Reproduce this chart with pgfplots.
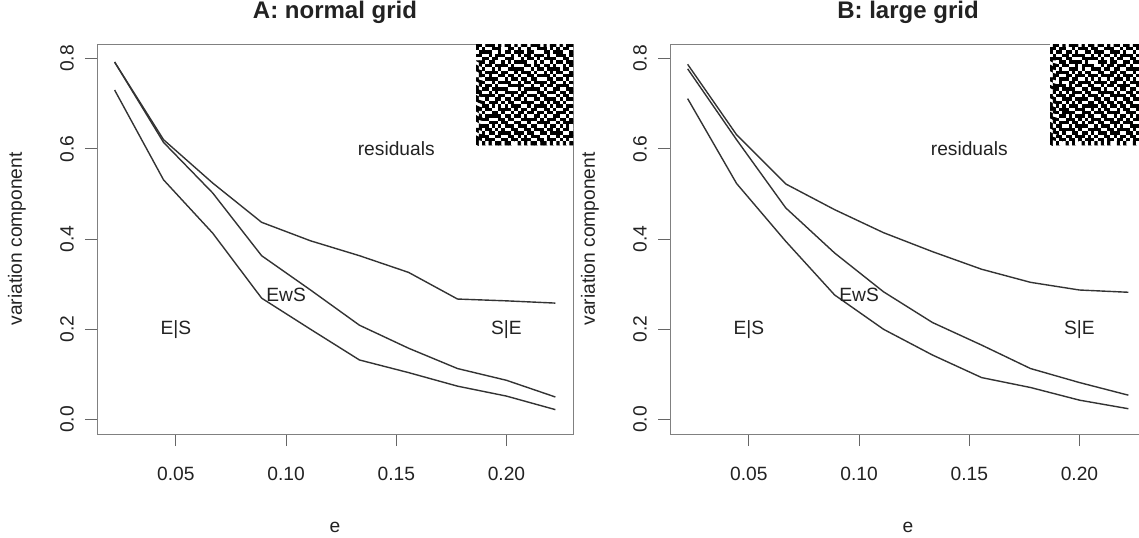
\documentclass[border=0pt]{standalone}
\usepackage{fontspec}
\setmainfont{Liberation Sans}
\usepackage{pgfplots}
\pgfplotsset{compat=1.18}
\definecolor{ln}{HTML}{333333}
\definecolor{txt}{HTML}{222222}
\tikzset{lab/.style={font=\fontsize{9.6}{11}\selectfont, text=txt},
         dl/.style={ln, line width=0.7pt, mark=none}}
\pgfplotsset{
  mainax/.style={
    scale only axis, width=238pt, height=195pt,
    xmin=0.0142, xmax=0.2302, ymin=-0.032, ymax=0.832,
    xtick={0.05,0.1,0.15,0.2}, xticklabels={0.05,0.10,0.15,0.20},
    ytick={0,0.2,0.4,0.6,0.8}, yticklabels={0.0,0.2,0.4,0.6,0.8},
    tick align=outside, major tick length=6pt,
    xtick pos=left, ytick pos=left,
    axis line style={black!50, line width=0.5pt},
    every tick/.style={black!60, line width=0.5pt},
    tick label style={font=\fontsize{9.6}{11}\selectfont, text=txt},
    xticklabel style={anchor=center, yshift=-14pt},
    yticklabel style={xshift=-9pt, rotate=90, anchor=center},
    xlabel={e}, ylabel={variation component},
    every axis x label/.style={at={([yshift=-46.5pt]axis description cs:0.5,0)}, anchor=center, font=\fontsize{9.6}{11}\selectfont, text=txt},
    every axis y label/.style={at={([xshift=-40pt]axis description cs:0,0.5)}, rotate=90, anchor=center, font=\fontsize{9.6}{11}\selectfont, text=txt},
    title style={at={([yshift=7pt]axis description cs:0.5,1)}, anchor=base, font=\bfseries\fontsize{12}{14}\selectfont, text=txt},
  },
  insetax/.style={
    scale only axis, height=50.5pt, hide axis,
    xmin=-0.5, xmax=29.5, ymin=-0.5, ymax=29.5, enlargelimits=false,
    colormap={bw}{color=(white) color=(black)},
    point meta min=0, point meta max=1,
  },
}
\begin{document}
\begin{tikzpicture}
\path[use as bounding box] (0,0) rectangle (569.5pt,268.5pt);
% ---------------- Panel A ----------------
\begin{axis}[mainax, name=A, at={(48.5pt,51.5pt)}, anchor=south west, title={A: normal grid}]
\addplot[dl] coordinates {(0.0222,0.792) (0.0444,0.620) (0.0667,0.524) (0.0889,0.437) (0.1111,0.396) (0.1333,0.363) (0.1556,0.326) (0.1778,0.267) (0.2000,0.263) (0.2222,0.258)};
\addplot[dl] coordinates {(0.0222,0.792) (0.0444,0.614) (0.0667,0.502) (0.0889,0.363) (0.1111,0.287) (0.1333,0.209) (0.1556,0.158) (0.1778,0.113) (0.2000,0.087) (0.2222,0.050)};
\addplot[dl] coordinates {(0.0222,0.730) (0.0444,0.531) (0.0667,0.413) (0.0889,0.269) (0.1111,0.200) (0.1333,0.132) (0.1556,0.104) (0.1778,0.074) (0.2000,0.052) (0.2222,0.022)};
\node[lab] at (axis cs:0.15,0.6) {residuals};
\node[lab] at (axis cs:0.10,0.276) {EwS};
\node[lab] at (axis cs:0.05,0.2) {E|S};
\node[lab] at (axis cs:0.20,0.2) {S|E};
\end{axis}
\begin{axis}[insetax, width=48.5pt, at={(A.north east)}, anchor=north east]
\addplot[matrix plot*, mesh/cols=30, mesh/rows=30, point meta=explicit] table[row sep=\\, header=false, x expr={mod(\coordindex,30)}, y expr={29-floor(\coordindex/30)}, meta index=0] {
1\\1\\0\\1\\1\\1\\0\\1\\0\\1\\1\\0\\1\\0\\1\\1\\0\\1\\1\\1\\0\\1\\0\\1\\1\\0\\1\\0\\1\\1\\
1\\0\\1\\0\\0\\1\\1\\1\\0\\0\\1\\1\\0\\1\\0\\0\\1\\0\\0\\1\\1\\1\\0\\1\\0\\1\\0\\1\\1\\0\\
0\\1\\1\\1\\1\\0\\0\\1\\0\\1\\1\\0\\1\\1\\1\\0\\1\\1\\0\\0\\0\\1\\1\\0\\1\\1\\1\\0\\0\\1\\
1\\1\\0\\0\\1\\0\\1\\1\\1\\0\\0\\1\\0\\1\\0\\1\\1\\0\\1\\1\\1\\0\\1\\0\\0\\1\\1\\1\\0\\1\\
0\\0\\1\\1\\0\\1\\1\\0\\0\\1\\1\\1\\0\\0\\1\\0\\1\\1\\0\\1\\0\\1\\1\\1\\1\\0\\0\\1\\1\\0\\
1\\1\\1\\0\\1\\1\\0\\0\\1\\0\\1\\0\\1\\1\\1\\1\\0\\0\\1\\0\\1\\0\\0\\1\\0\\1\\1\\0\\1\\1\\
0\\1\\0\\1\\1\\0\\1\\1\\1\\1\\0\\1\\0\\0\\0\\1\\1\\0\\1\\1\\0\\1\\1\\0\\1\\0\\0\\1\\0\\1\\
1\\0\\1\\0\\0\\1\\0\\1\\0\\0\\1\\1\\1\\1\\1\\0\\0\\1\\0\\1\\1\\0\\1\\1\\1\\1\\0\\1\\1\\0\\
1\\1\\0\\1\\1\\1\\1\\0\\1\\1\\0\\0\\1\\0\\1\\1\\1\\0\\1\\0\\0\\1\\0\\1\\0\\1\\1\\0\\0\\1\\
0\\1\\1\\0\\1\\0\\0\\1\\1\\0\\1\\1\\0\\1\\0\\0\\1\\1\\0\\1\\1\\1\\1\\0\\1\\0\\0\\1\\1\\1\\
1\\0\\0\\1\\1\\1\\1\\0\\0\\1\\0\\1\\1\\0\\1\\1\\0\\1\\1\\0\\0\\0\\1\\1\\0\\1\\1\\0\\1\\0\\
1\\1\\1\\0\\0\\1\\0\\1\\1\\1\\1\\0\\0\\1\\0\\1\\1\\0\\1\\1\\1\\1\\0\\1\\1\\0\\0\\1\\0\\1\\
0\\1\\0\\1\\1\\0\\1\\0\\0\\0\\1\\1\\1\\1\\1\\0\\0\\1\\0\\0\\1\\0\\1\\1\\0\\1\\1\\1\\1\\0\\
1\\0\\1\\1\\0\\1\\1\\1\\1\\1\\0\\0\\0\\1\\0\\1\\1\\1\\1\\1\\0\\1\\0\\0\\1\\1\\0\\0\\1\\1\\
1\\1\\0\\0\\1\\0\\1\\0\\0\\1\\1\\1\\1\\0\\1\\1\\0\\0\\0\\1\\1\\0\\1\\1\\1\\0\\1\\1\\0\\1\\
0\\1\\1\\1\\1\\1\\0\\1\\1\\0\\0\\1\\0\\1\\1\\0\\1\\1\\1\\0\\1\\1\\0\\0\\0\\1\\0\\1\\1\\0\\
1\\0\\0\\1\\0\\0\\1\\1\\0\\1\\1\\0\\1\\1\\0\\1\\0\\0\\1\\1\\0\\1\\1\\1\\1\\0\\1\\0\\1\\1\\
1\\1\\1\\0\\1\\1\\1\\0\\1\\0\\1\\1\\0\\0\\1\\1\\1\\1\\0\\0\\1\\0\\1\\0\\1\\1\\0\\1\\0\\0\\
0\\0\\1\\1\\0\\1\\0\\1\\0\\1\\0\\1\\1\\1\\0\\0\\1\\0\\1\\1\\1\\1\\0\\1\\0\\1\\1\\0\\1\\1\\
1\\1\\0\\1\\1\\0\\0\\1\\1\\1\\1\\0\\1\\0\\1\\1\\0\\1\\1\\0\\0\\1\\1\\0\\1\\0\\0\\1\\1\\0\\
1\\0\\1\\0\\0\\1\\1\\0\\1\\0\\0\\1\\0\\1\\1\\0\\1\\1\\0\\1\\1\\0\\1\\1\\0\\1\\1\\1\\0\\1\\
0\\1\\0\\1\\1\\1\\1\\1\\0\\1\\1\\0\\1\\1\\0\\1\\0\\0\\1\\1\\0\\1\\0\\0\\1\\1\\0\\0\\1\\0\\
1\\1\\1\\1\\0\\0\\0\\1\\1\\0\\1\\1\\0\\0\\1\\1\\1\\1\\1\\0\\1\\0\\1\\1\\1\\0\\1\\1\\0\\1\\
1\\0\\0\\0\\1\\1\\1\\0\\1\\1\\0\\0\\1\\1\\0\\0\\1\\0\\0\\1\\1\\1\\1\\0\\0\\1\\0\\1\\1\\1\\
0\\1\\1\\1\\0\\1\\0\\1\\0\\1\\1\\1\\0\\1\\1\\1\\0\\1\\1\\0\\0\\1\\0\\1\\1\\0\\1\\0\\1\\0\\
1\\1\\0\\1\\1\\0\\1\\0\\1\\0\\0\\1\\1\\0\\0\\1\\1\\0\\1\\1\\1\\0\\1\\1\\0\\1\\0\\1\\1\\0\\
1\\0\\1\\0\\1\\1\\0\\1\\1\\1\\1\\0\\1\\1\\1\\0\\1\\1\\0\\0\\1\\1\\0\\1\\1\\1\\1\\0\\0\\1\\
0\\1\\1\\1\\0\\0\\1\\1\\0\\0\\1\\1\\0\\1\\0\\1\\0\\1\\1\\1\\0\\0\\1\\0\\0\\1\\0\\1\\1\\1\\
1\\1\\0\\1\\1\\1\\0\\0\\1\\1\\0\\1\\1\\0\\1\\1\\1\\0\\0\\1\\1\\0\\1\\1\\1\\0\\1\\0\\1\\0\\
1\\0\\1\\0\\1\\0\\1\\1\\0\\1\\1\\0\\0\\1\\0\\1\\0\\1\\1\\0\\1\\1\\0\\1\\0\\1\\0\\1\\0\\1\\
};
\end{axis}
% ---------------- Panel B ----------------
\begin{axis}[mainax, name=B, at={(335pt,51.5pt)}, anchor=south west, title={B: large grid}]
\addplot[dl] coordinates {(0.0222,0.787) (0.0444,0.631) (0.0667,0.522) (0.0889,0.465) (0.1111,0.414) (0.1333,0.372) (0.1556,0.333) (0.1778,0.304) (0.2000,0.287) (0.2222,0.282)};
\addplot[dl] coordinates {(0.0222,0.777) (0.0444,0.620) (0.0667,0.469) (0.0889,0.369) (0.1111,0.283) (0.1333,0.215) (0.1556,0.165) (0.1778,0.113) (0.2000,0.082) (0.2222,0.054)};
\addplot[dl] coordinates {(0.0222,0.711) (0.0444,0.523) (0.0667,0.395) (0.0889,0.276) (0.1111,0.200) (0.1333,0.143) (0.1556,0.093) (0.1778,0.071) (0.2000,0.043) (0.2222,0.024)};
\node[lab] at (axis cs:0.15,0.6) {residuals};
\node[lab] at (axis cs:0.10,0.276) {EwS};
\node[lab] at (axis cs:0.05,0.2) {E|S};
\node[lab] at (axis cs:0.20,0.2) {S|E};
\end{axis}
\begin{axis}[insetax, width=48pt, at={(B.north east)}, anchor=north east]
\addplot[matrix plot*, mesh/cols=30, mesh/rows=30, point meta=explicit] table[row sep=\\, header=false, x expr={mod(\coordindex,30)}, y expr={29-floor(\coordindex/30)}, meta index=0] {
0\\1\\1\\0\\1\\0\\1\\1\\1\\0\\1\\0\\1\\1\\0\\1\\1\\0\\1\\0\\1\\1\\0\\1\\1\\0\\1\\1\\1\\0\\
1\\1\\0\\1\\1\\0\\0\\1\\0\\1\\1\\1\\0\\1\\1\\0\\0\\1\\1\\1\\0\\0\\1\\0\\1\\1\\0\\1\\0\\1\\
1\\0\\1\\1\\0\\1\\1\\0\\1\\0\\0\\1\\1\\0\\1\\1\\1\\0\\0\\1\\1\\1\\0\\1\\0\\0\\1\\0\\1\\1\\
0\\1\\0\\0\\1\\1\\0\\1\\1\\1\\1\\0\\0\\1\\0\\1\\0\\1\\1\\0\\1\\0\\1\\1\\1\\1\\0\\1\\1\\0\\
1\\1\\1\\1\\0\\1\\1\\0\\0\\0\\1\\1\\1\\1\\1\\0\\1\\0\\0\\1\\0\\1\\1\\0\\0\\1\\1\\0\\0\\1\\
1\\0\\0\\1\\1\\0\\1\\1\\1\\1\\0\\1\\0\\0\\0\\1\\1\\1\\0\\1\\1\\0\\0\\1\\1\\0\\1\\1\\1\\1\\
0\\1\\1\\0\\1\\1\\0\\0\\1\\0\\1\\1\\1\\1\\0\\0\\1\\0\\1\\1\\0\\1\\1\\1\\0\\1\\0\\0\\1\\0\\
1\\1\\0\\1\\0\\0\\1\\1\\1\\0\\1\\0\\0\\1\\1\\1\\0\\1\\1\\0\\1\\1\\0\\0\\1\\1\\1\\1\\0\\1\\
1\\0\\1\\1\\1\\1\\0\\1\\0\\1\\0\\1\\1\\0\\0\\1\\1\\0\\0\\1\\1\\0\\1\\1\\0\\0\\1\\0\\1\\1\\
0\\1\\1\\0\\0\\1\\1\\0\\1\\1\\1\\0\\1\\1\\1\\0\\1\\1\\1\\1\\0\\1\\0\\1\\1\\1\\0\\1\\1\\0\\
1\\1\\0\\1\\1\\1\\0\\1\\1\\0\\0\\1\\0\\1\\0\\1\\0\\0\\1\\0\\1\\1\\1\\0\\1\\0\\1\\0\\0\\1\\
1\\0\\0\\1\\0\\0\\1\\1\\0\\1\\1\\1\\1\\0\\1\\1\\1\\1\\0\\1\\1\\0\\0\\1\\0\\1\\1\\1\\1\\0\\
0\\1\\1\\1\\1\\0\\1\\0\\1\\1\\0\\0\\1\\1\\0\\0\\1\\0\\1\\1\\0\\1\\1\\1\\1\\0\\0\\1\\0\\1\\
1\\1\\1\\0\\1\\1\\1\\1\\0\\0\\1\\1\\0\\1\\1\\1\\0\\1\\0\\0\\1\\0\\1\\1\\0\\1\\1\\0\\1\\1\\
0\\1\\0\\1\\0\\1\\0\\1\\1\\1\\0\\1\\1\\0\\0\\1\\1\\1\\1\\1\\0\\1\\0\\0\\1\\1\\0\\1\\1\\0\\
1\\0\\1\\1\\1\\0\\1\\1\\0\\0\\1\\0\\1\\1\\1\\0\\1\\0\\0\\1\\1\\1\\1\\1\\0\\1\\1\\0\\0\\1\\
1\\1\\0\\0\\1\\1\\1\\0\\1\\1\\1\\1\\0\\0\\1\\1\\0\\1\\1\\0\\1\\0\\0\\1\\1\\0\\1\\1\\1\\1\\
0\\1\\1\\1\\0\\1\\0\\1\\0\\1\\0\\0\\1\\1\\0\\1\\1\\0\\1\\1\\0\\1\\1\\0\\1\\1\\0\\0\\1\\0\\
1\\0\\1\\0\\1\\0\\1\\1\\1\\0\\1\\1\\1\\1\\1\\0\\1\\1\\0\\1\\1\\0\\1\\1\\0\\1\\1\\1\\0\\1\\
1\\1\\0\\1\\1\\1\\0\\0\\1\\1\\1\\0\\0\\1\\0\\1\\0\\1\\1\\0\\0\\1\\0\\1\\1\\0\\0\\1\\1\\0\\
0\\1\\1\\0\\1\\1\\1\\1\\0\\0\\1\\1\\1\\0\\1\\1\\1\\0\\1\\1\\1\\1\\0\\0\\1\\1\\1\\0\\1\\1\\
1\\0\\0\\1\\1\\0\\1\\0\\1\\1\\1\\0\\1\\1\\0\\0\\1\\1\\0\\0\\1\\0\\1\\1\\0\\1\\0\\1\\1\\0\\
1\\1\\1\\0\\0\\1\\1\\1\\0\\1\\0\\1\\0\\1\\1\\1\\0\\1\\1\\1\\0\\1\\1\\0\\1\\0\\1\\1\\0\\1\\
0\\1\\0\\1\\1\\1\\0\\1\\1\\0\\1\\0\\1\\1\\0\\1\\1\\0\\0\\1\\1\\1\\0\\1\\1\\1\\0\\0\\1\\1\\
1\\0\\1\\1\\0\\0\\1\\0\\1\\1\\1\\1\\0\\0\\1\\0\\1\\1\\1\\0\\1\\0\\1\\0\\0\\1\\1\\1\\1\\0\\
1\\1\\0\\1\\1\\1\\1\\1\\0\\1\\0\\0\\1\\1\\1\\1\\0\\0\\1\\1\\0\\1\\1\\1\\1\\0\\1\\0\\0\\1\\
0\\1\\1\\0\\1\\0\\0\\1\\1\\0\\1\\1\\0\\1\\0\\1\\1\\1\\0\\1\\1\\1\\0\\0\\1\\1\\0\\1\\1\\1\\
1\\0\\1\\1\\0\\1\\1\\0\\1\\1\\1\\0\\1\\0\\1\\0\\0\\1\\1\\0\\1\\0\\1\\1\\0\\1\\1\\0\\1\\0\\
1\\1\\0\\1\\1\\0\\1\\1\\0\\1\\0\\1\\1\\1\\0\\1\\1\\0\\1\\1\\0\\1\\1\\0\\1\\0\\1\\1\\0\\1\\
1\\0\\1\\0\\0\\1\\0\\1\\0\\0\\1\\0\\1\\0\\1\\0\\1\\0\\1\\0\\0\\1\\0\\1\\0\\0\\1\\0\\1\\0\\
};
\end{axis}
\end{tikzpicture}
\end{document}
